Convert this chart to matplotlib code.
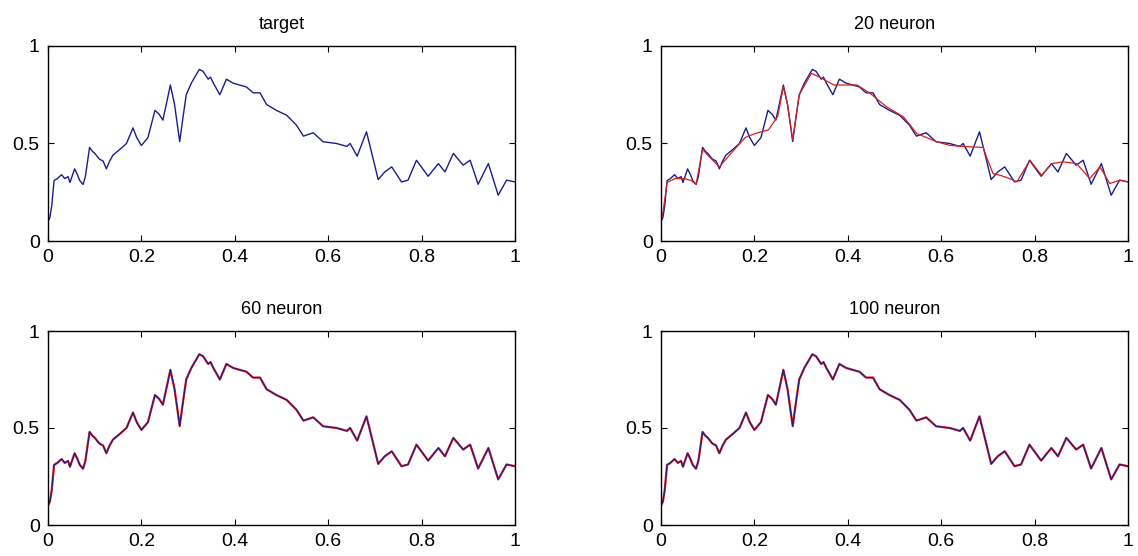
import matplotlib
matplotlib.use("Agg")
import matplotlib.pyplot as plt
from matplotlib.ticker import FormatStrFormatter, FuncFormatter

plt.rcParams['font.family'] = ['Liberation Sans', 'DejaVu Sans']

# target signal
target_x = [0.000, 0.004, 0.008, 0.013, 0.020, 0.029, 0.036, 0.043, 0.047, 0.057,
            0.063, 0.068, 0.075, 0.080, 0.089, 0.095, 0.100, 0.110, 0.118, 0.125,
            0.132, 0.139, 0.154, 0.168, 0.182, 0.190, 0.200, 0.214, 0.229, 0.238,
            0.246, 0.255, 0.262, 0.271, 0.282, 0.290, 0.296, 0.307, 0.324, 0.332,
            0.343, 0.348, 0.354, 0.368, 0.382, 0.396, 0.410, 0.425, 0.439, 0.454,
            0.468, 0.489, 0.511, 0.532, 0.547, 0.568, 0.589, 0.618, 0.640, 0.647,
            0.662, 0.682, 0.697, 0.707, 0.721, 0.736, 0.757, 0.771, 0.789, 0.814,
            0.836, 0.850, 0.868, 0.889, 0.904, 0.921, 0.943, 0.964, 0.982, 1.000]
target_y = [0.10, 0.12, 0.18, 0.31, 0.32, 0.34, 0.32, 0.33, 0.30, 0.37,
            0.34, 0.31, 0.29, 0.33, 0.48, 0.46, 0.45, 0.42, 0.41, 0.37,
            0.41, 0.44, 0.47, 0.50, 0.58, 0.53, 0.49, 0.53, 0.67, 0.65,
            0.62, 0.72, 0.80, 0.70, 0.51, 0.65, 0.75, 0.81, 0.88, 0.87,
            0.83, 0.84, 0.81, 0.75, 0.83, 0.81, 0.80, 0.79, 0.76, 0.76,
            0.70, 0.67, 0.645, 0.594, 0.538, 0.555, 0.509, 0.50, 0.485, 0.50,
            0.435, 0.56, 0.414, 0.315, 0.354, 0.38, 0.303, 0.312, 0.414, 0.332,
            0.397, 0.354, 0.449, 0.389, 0.414, 0.291, 0.397, 0.235, 0.312, 0.303]

# 20 neuron network output (smoother)
net20_x = [0.000, 0.005, 0.013, 0.030, 0.050, 0.065, 0.075, 0.089, 0.100, 0.125,
           0.150, 0.180, 0.200, 0.230, 0.250, 0.262, 0.271, 0.282, 0.296, 0.322,
           0.340, 0.370, 0.380, 0.420, 0.448, 0.483, 0.519, 0.548, 0.590, 0.619,
           0.662, 0.690, 0.697, 0.711, 0.726, 0.747, 0.762, 0.790, 0.815, 0.837,
           0.861, 0.890, 0.918, 0.940, 0.961, 0.983, 1.000]
net20_y = [0.10, 0.16, 0.30, 0.32, 0.32, 0.31, 0.29, 0.47, 0.44, 0.38,
           0.45, 0.53, 0.55, 0.57, 0.64, 0.79, 0.70, 0.52, 0.75, 0.86,
           0.84, 0.80, 0.80, 0.80, 0.757, 0.688, 0.637, 0.551, 0.509, 0.49,
           0.483, 0.48, 0.43, 0.346, 0.337, 0.32, 0.303, 0.414, 0.337, 0.397,
           0.406, 0.397, 0.32, 0.38, 0.295, 0.312, 0.303]

# 60 and 100 neuron outputs lie on the target
net60_x, net60_y = target_x, target_y
net100_x, net100_y = target_x, target_y

blue = '#1c1c8c'
red = '#d82020'

fig = plt.figure(figsize=(11.38, 5.56), dpi=100)
W, H = 1138, 556
boxes = [(48, 46, 515, 241), (661, 46, 1128, 241),
         (48, 331, 515, 525), (661, 331, 1128, 525)]
titles = ['target', '20 neuron', '60 neuron', '100 neuron']
nets = [None, (net20_x, net20_y), (net60_x, net60_y), (net100_x, net100_y)]

for (x0, y0, x1, y1), title, net in zip(boxes, titles, nets):
    ax = fig.add_axes([x0 / W, 1 - y1 / H, (x1 - x0) / W, (y1 - y0) / H])
    if net is None:
        ax.plot(target_x, target_y, color=blue, lw=1.0)
    elif title == '20 neuron':
        ax.plot(target_x, target_y, color=blue, lw=1.0)
        ax.plot(net[0], net[1], color=red, lw=0.9)
    else:
        ax.plot(net[0], net[1], color=red, lw=1.6)
        ax.plot(target_x, target_y, color=blue, lw=0.8)
    ax.set_xlim(0, 1)
    ax.set_ylim(0, 1)
    ax.set_xticks([0, 0.2, 0.4, 0.6, 0.8, 1])
    ax.set_yticks([0, 0.5, 1])
    ax.xaxis.set_major_formatter(FuncFormatter(lambda v, p: '%g' % v))
    ax.yaxis.set_major_formatter(FuncFormatter(lambda v, p: '%g' % v))
    ax.tick_params(direction='in', top=True, right=True, length=4,
                   labelsize=14, pad=6)
    for s in ax.spines.values():
        s.set_linewidth(1.0)
    ax.set_title(title, fontsize=13, pad=12)

fig.savefig('out.png', dpi=100)
